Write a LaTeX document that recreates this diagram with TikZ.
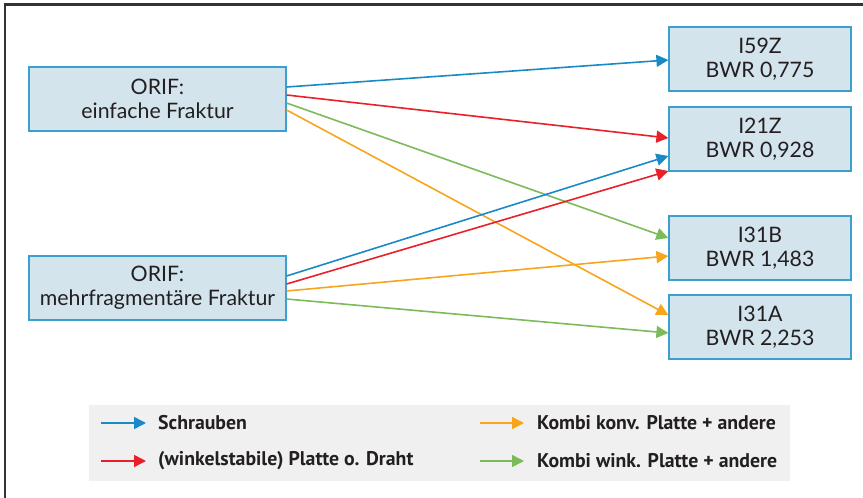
\documentclass[tikz,border=0pt]{standalone}
\usepackage{fontspec}
\setmainfont{Lato}
\newfontfamily\legfont{PT Sans}
\usetikzlibrary{arrows.meta}
\definecolor{cblue}{HTML}{1A8AC6}
\definecolor{cred}{HTML}{E8202A}
\definecolor{cgreen}{HTML}{7CBA5A}
\definecolor{corange}{HTML}{F7A51C}
\definecolor{boxfill}{HTML}{D3E4EC}
\definecolor{boxline}{HTML}{3AA0D0}
\definecolor{leggray}{HTML}{F0F0F0}
\definecolor{txt}{HTML}{231F20}
\definecolor{frame}{HTML}{333333}
\tikzset{
  catbox/.style={draw=boxline, fill=boxfill, line width=1.2pt, minimum height=64pt,
    align=center, inner sep=0pt, text=txt, font=\fontsize{21.3}{24}\selectfont},
  leftbox/.style={catbox, minimum width=257pt},
  rightbox/.style={catbox, minimum width=182pt},
  conn/.style={line width=1.6pt, -{Triangle[length=12pt,width=12pt]}},
  legtext/.style={anchor=west, inner sep=0pt, text=txt, font=\legfont\bfseries\fontsize{19.8}{21}\selectfont},
}
\begin{document}
\begin{tikzpicture}[x=1pt,y=-1pt]
\useasboundingbox (0,0) rectangle (863,498);
\draw[frame, line width=2.4pt] (4.7,498) -- (4.7,4.5) -- (863,4.5);
% boxes
\node[leftbox] (A) at (157.5,99) {ORIF:\\einfache Fraktur};
\node[leftbox] (B) at (157.5,288) {ORIF:\\mehrfragmentäre Fraktur};
\node[rightbox] (R1) at (760,59) {I59Z\\BWR 0,775};
\node[rightbox] (R2) at (760,139) {I21Z\\BWR 0,928};
\node[rightbox] (R3) at (760,248) {I31B\\BWR 1,483};
\node[rightbox] (R4) at (760,327) {I31A\\BWR 2,253};
% connectors from A
\draw[conn, cblue] ([yshift=12pt]A.east) -- ([yshift=-1pt]R1.west);
\draw[conn, cred] ([yshift=4pt]A.east) -- ([yshift=1pt]R2.west);
\draw[conn, cgreen] ([yshift=-4pt]A.east) -- ([yshift=10pt]R3.west);
\draw[conn, corange] ([yshift=-11pt]A.east) -- ([yshift=12pt]R4.west);
% connectors from B
\draw[conn, cblue] ([yshift=12pt]B.east) -- ([yshift=-17pt]R2.west);
\draw[conn, cred] ([yshift=4pt]B.east) -- ([yshift=-32pt]R2.west);
\draw[conn, corange] ([yshift=-3pt]B.east) -- ([yshift=-8pt]R3.west);
\draw[conn, cgreen] ([yshift=-11pt]B.east) -- ([yshift=-6pt]R4.west);
% legend
\node[fill=leggray, minimum width=701pt, minimum height=76pt, inner sep=0pt] (leg) at (439.5,443) {};
\coordinate (l1s) at (101,423); \coordinate (l1e) at (146,423);
\coordinate (l2s) at (101,461); \coordinate (l2e) at (146,461);
\coordinate (l3s) at (480,423); \coordinate (l3e) at (524,423);
\coordinate (l4s) at (480,461); \coordinate (l4e) at (524,461);
\draw[conn, cblue] (l1s) -- (l1e);
\draw[conn, cred] (l2s) -- (l2e);
\draw[conn, corange] (l3s) -- (l3e);
\draw[conn, cgreen] (l4s) -- (l4e);
\node[legtext] (t1) at (158,423) {Schrauben};
\node[legtext] (t2) at (158,461) {(winkelstabile) Platte o. Draht};
\node[legtext] (t3) at (537,423) {Kombi konv. Platte + andere};
\node[legtext] (t4) at (537,461) {Kombi wink. Platte + andere};
\end{tikzpicture}
\end{document}
